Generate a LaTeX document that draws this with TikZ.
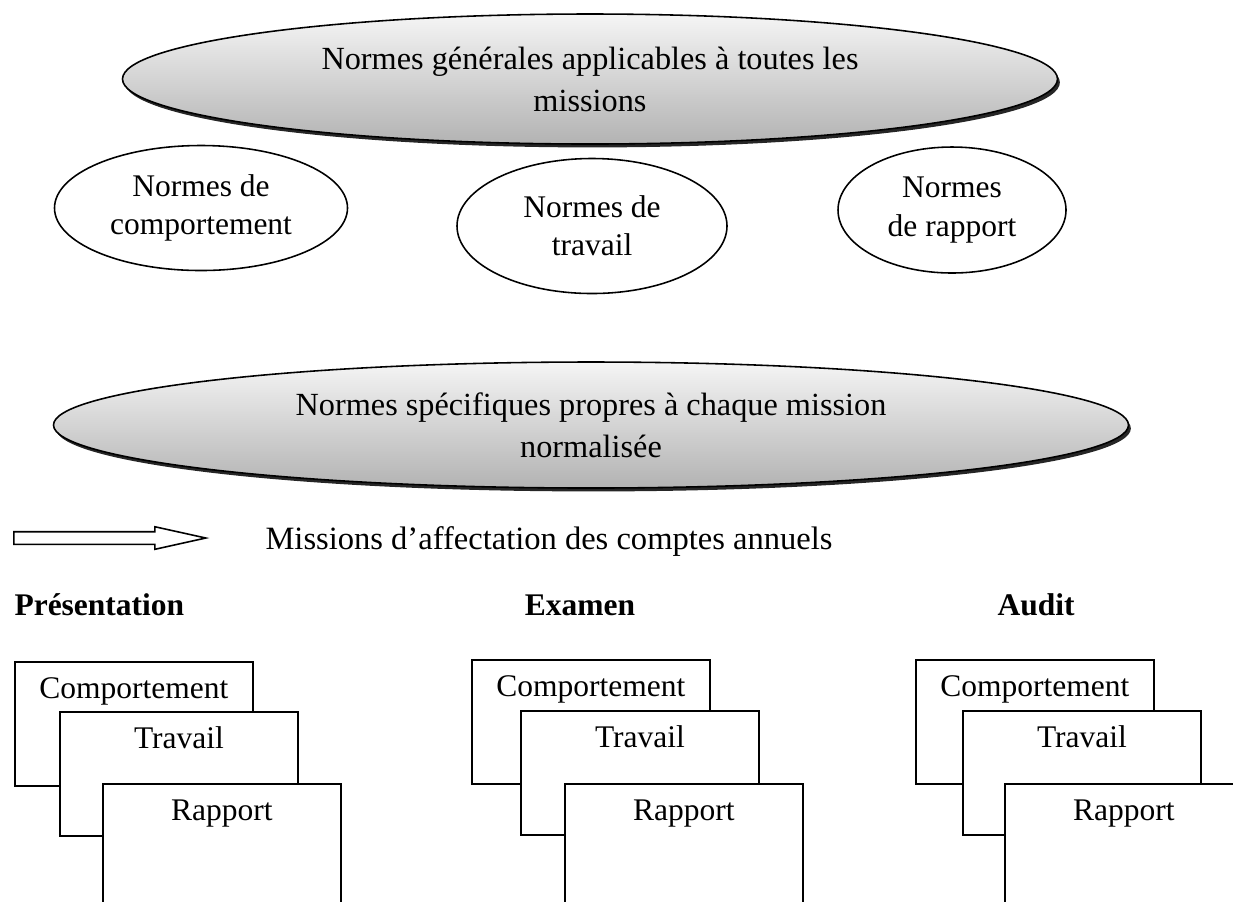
\documentclass[tikz,border=0pt]{standalone}
\usepackage{fontspec}
\setmainfont{Liberation Serif}
\usepackage{tikz}
\usetikzlibrary{shapes.geometric, shapes.arrows, shadows, positioning}
\newdimen\pxu
\pxu=0.381pt
\tikzset{
  normsbig/.style={
    ellipse, draw, line width=0.6pt, top color=gray!8, bottom color=gray!60,
    drop shadow={shadow xshift=0.9pt, shadow yshift=-1.3pt, fill=black!85, opacity=1},
    align=center, inner sep=0pt, font=\fontsize{12.3pt}{16pt}\selectfont
  },
  normssmall/.style={
    ellipse, draw, line width=0.6pt, fill=white,
    align=center, inner sep=0pt, font=\fontsize{12pt}{14.5pt}\selectfont
  },
  cardbox/.style={
    rectangle, draw, line width=0.7pt, fill=white, anchor=north west, inner sep=0pt,
    text width=238\pxu, align=center, text height=37\pxu, text depth=87\pxu,
    font=\fontsize{12pt}{14pt}\selectfont
  },
  missionhead/.style={
    anchor=base, inner sep=0pt, font=\bfseries\fontsize{12pt}{14pt}\selectfont
  },
  legendarrow/.style={
    single arrow, draw, line width=0.6pt, fill=white, inner sep=5.5\pxu,
    single arrow head extend=5\pxu, single arrow tip angle=25, minimum height=192\pxu
  }
}

\begin{document}
\begin{tikzpicture}[x=0.381pt, y=-0.381pt]
  \path[use as bounding box, clip] (0,0) rectangle (1233,901);

  \node[normsbig, minimum width=935\pxu, minimum height=130\pxu] (normsGen) at (590,79) {Normes générales applicables à toutes les\\missions};
  \node[normssmall, minimum width=293\pxu, minimum height=125\pxu] (normsComp) at (201,208) {Normes de\\comportement};
  \node[normssmall, minimum width=270\pxu, minimum height=135\pxu] (normsTrav) at (592,226) {Normes de\\travail};
  \node[normssmall, minimum width=228\pxu, minimum height=126\pxu] (normsRapp) at (952,210) {Normes\\de rapport};
  \node[normsbig, minimum width=1075\pxu, minimum height=126\pxu] (normsSpec) at (591,425) {Normes spécifiques propres à chaque mission\\normalisée};

  \node[legendarrow, anchor=tail] (missionArrow) at (13,538) {};
  \node[anchor=base west, inner sep=0pt, font=\fontsize{12.4pt}{14pt}\selectfont] (missionLabel) at (265,549) {Missions d’affectation des comptes annuels};

  \node[missionhead, anchor=base west] (headPres) at (14,615) {Présentation};
  \node[missionhead] (headExam) at (580,615) {Examen};
  \node[missionhead] (headAudit) at (1036,615) {Audit};

  \node[cardbox] (compPres) at (14,661) {Comportement};
  \node[cardbox] (travPres) at ([shift={(45,50)}]compPres.north west) {Travail};
  \node[cardbox] (rappPres) at ([shift={(88,122)}]compPres.north west) {Rapport};

  \node[cardbox] (compExam) at (471,659) {Comportement};
  \node[cardbox] (travExam) at ([shift={(49,51)}]compExam.north west) {Travail};
  \node[cardbox] (rappExam) at ([shift={(93,124)}]compExam.north west) {Rapport};

  \node[cardbox] (compAudit) at (915,659) {Comportement};
  \node[cardbox] (travAudit) at ([shift={(47,51)}]compAudit.north west) {Travail};
  \node[cardbox] (rappAudit) at ([shift={(89,124)}]compAudit.north west) {Rapport};
\end{tikzpicture}
\end{document}
